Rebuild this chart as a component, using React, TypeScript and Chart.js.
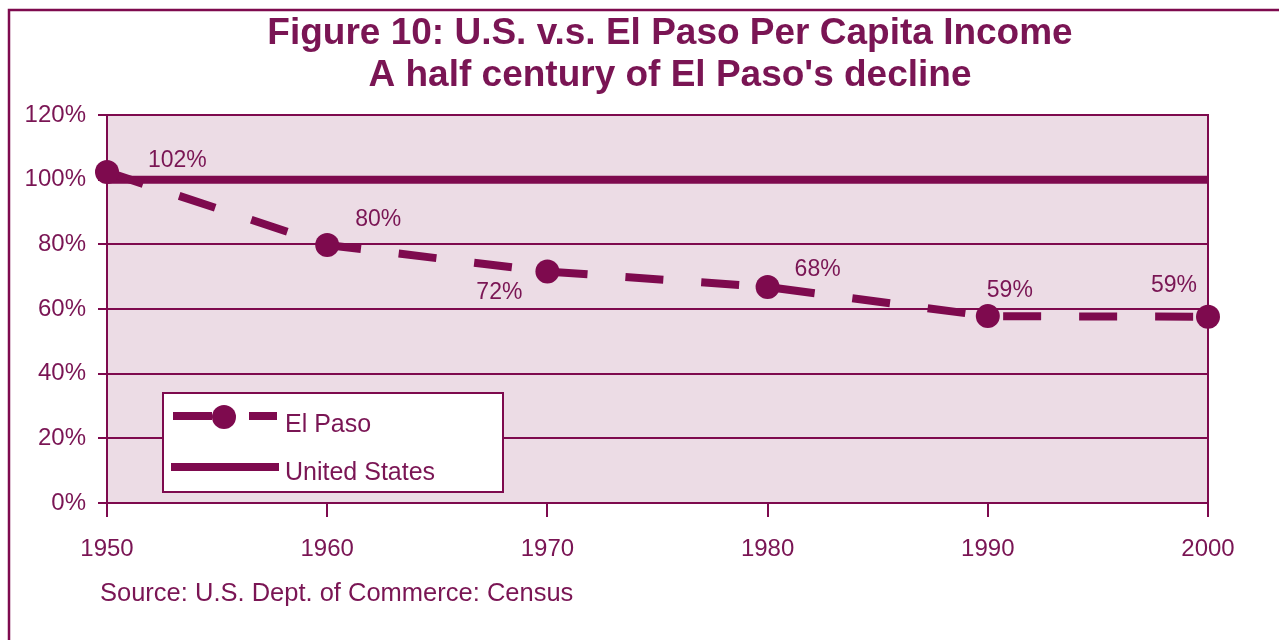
import React, { useEffect, useRef } from 'react';
import { Chart, registerables } from 'chart.js';

Chart.register(...registerables);

// ---- data ----
const years = [1950, 1960, 1970, 1980, 1990, 2000];
const elPaso = [102.4, 79.8, 71.6, 66.8, 57.8, 57.6];
const unitedStates = [100, 100, 100, 100, 100, 100];
const elPasoLabels = ['102%', '80%', '72%', '68%', '59%', '59%'];
const seriesNames = ['El Paso', 'United States'];
const titleLines = ['Figure 10: U.S. v.s. El Paso Per Capita Income', "A half century of El Paso's decline"];
const sourceNote = 'Source: U.S. Dept. of Commerce: Census';

// ---- style ----
const PURPLE = '#7e0a4e';
const TEXT = '#7a1554';
const PLOT_BG = '#ecdce5';
const FONT = '"Liberation Sans", Arial, sans-serif';

// label placement relative to each point
const labelPlacement = [
  { dx: 41, dy: -5, align: 'left' },
  { dx: 28, dy: -19, align: 'left' },
  { dx: -25, dy: 28, align: 'right' },
  { dx: 27, dy: -11, align: 'left' },
  { dx: -1, dy: -19, align: 'left' },
  { dx: -11, dy: -25, align: 'right' },
];

const decor = {
  id: 'decor',
  beforeDraw(chart: any) {
    const { ctx, chartArea: a } = chart;
    ctx.save();
    ctx.fillStyle = '#ffffff';
    ctx.fillRect(0, 0, chart.width, chart.height);
    // outer frame (left and top edges visible)
    ctx.strokeStyle = PURPLE;
    ctx.lineWidth = 2.5;
    ctx.beginPath();
    ctx.moveTo(9, 640);
    ctx.lineTo(9, 10);
    ctx.lineTo(1279, 10);
    ctx.stroke();
    // plot background
    ctx.fillStyle = PLOT_BG;
    ctx.fillRect(a.left, a.top, a.right - a.left, a.bottom - a.top);
    // titles
    ctx.fillStyle = TEXT;
    ctx.textAlign = 'center';
    ctx.textBaseline = 'alphabetic';
    ctx.font = `bold 37px ${FONT}`;
    ctx.fillText(titleLines[0], 670, 44);
    ctx.fillText(titleLines[1], 670, 86);
    // source
    ctx.textAlign = 'left';
    ctx.font = `25.5px ${FONT}`;
    ctx.fillText(sourceNote, 100, 601);
    ctx.restore();
  },
  beforeDatasetsDraw(chart: any) {
    const { ctx, chartArea: a } = chart;
    ctx.save();
    ctx.strokeStyle = PURPLE;
    ctx.lineWidth = 2;
    ctx.strokeRect(a.left, a.top, a.right - a.left, a.bottom - a.top);
    ctx.restore();
  },
  afterDatasetsDraw(chart: any) {
    const { ctx } = chart;
    ctx.save();
    // data labels
    const meta = chart.getDatasetMeta(0);
    ctx.fillStyle = TEXT;
    ctx.font = `23px ${FONT}`;
    ctx.textBaseline = 'alphabetic';
    meta.data.forEach((pt: any, i: number) => {
      const p = labelPlacement[i];
      ctx.textAlign = p.align;
      ctx.fillText(elPasoLabels[i], pt.x + p.dx, pt.y + p.dy);
    });
    // legend
    const lx = 163, ly = 393, lw = 340, lh = 99;
    ctx.fillStyle = '#ffffff';
    ctx.fillRect(lx, ly, lw, lh);
    ctx.strokeStyle = PURPLE;
    ctx.lineWidth = 2;
    ctx.strokeRect(lx, ly, lw, lh);
    ctx.lineWidth = 8;
    ctx.lineCap = 'butt';
    ctx.beginPath();
    ctx.moveTo(173, 416);
    ctx.lineTo(212, 416);
    ctx.moveTo(249, 416);
    ctx.lineTo(277, 416);
    ctx.stroke();
    ctx.fillStyle = PURPLE;
    ctx.beginPath();
    ctx.arc(224, 417, 12, 0, Math.PI * 2);
    ctx.fill();
    ctx.beginPath();
    ctx.moveTo(171, 467);
    ctx.lineTo(279, 467);
    ctx.stroke();
    ctx.fillStyle = TEXT;
    ctx.textAlign = 'left';
    ctx.font = `25px ${FONT}`;
    ctx.fillText(chart.data.datasets[0].label, 285, 432);
    ctx.fillText(chart.data.datasets[1].label, 285, 480);
    ctx.restore();
  },
};

export default function App() {
  const ref = useRef<HTMLCanvasElement>(null);
  useEffect(() => {
    if (!ref.current) return;
    const chart = new Chart(ref.current, {
      type: 'line',
      data: {
        datasets: [
          {
            label: seriesNames[0],
            data: years.map((x, i) => ({ x, y: elPaso[i] })),
            borderColor: PURPLE,
            backgroundColor: PURPLE,
            borderWidth: 8,
            borderDash: [38, 38],
            borderCapStyle: 'butt',
            pointRadius: 12,
            pointBackgroundColor: PURPLE,
            pointBorderWidth: 0,
            tension: 0,
            clip: false,
          },
          {
            label: seriesNames[1],
            data: years.map((x, i) => ({ x, y: unitedStates[i] })),
            borderColor: PURPLE,
            backgroundColor: PURPLE,
            borderWidth: 8,
            pointRadius: 0,
            tension: 0,
            clip: false,
          },
        ],
      } as any,
      plugins: [decor],
      options: {
        animation: false,
        responsive: false,
        layout: { padding: { top: 115, right: 71, bottom: 0, left: 0 } },
        plugins: {
          legend: { display: false },
          tooltip: { enabled: false },
          title: { display: false },
        },
        scales: {
          x: {
            type: 'linear',
            min: 1950,
            max: 2000,
            afterFit: (s: any) => { s.height = 137; },
            ticks: {
              stepSize: 10,
              callback: (v: any) => String(v),
              color: TEXT,
              font: { family: FONT, size: 24 },
              padding: 18,
              maxRotation: 0,
            },
            grid: {
              drawOnChartArea: false,
              drawTicks: true,
              tickLength: 14,
              color: PURPLE,
              lineWidth: 2,
            },
            border: { display: false },
          },
          y: {
            min: 0,
            max: 120,
            afterFit: (s: any) => { s.width = 107; },
            ticks: {
              stepSize: 20,
              callback: (v: any) => `${v}%`,
              color: TEXT,
              font: { family: FONT, size: 24 },
              padding: 12,
            },
            grid: {
              color: PURPLE,
              lineWidth: 2,
              tickLength: 9,
            },
            border: { display: false },
          },
        },
      } as any,
    });
    return () => chart.destroy();
  }, []);
  return (
    <canvas
      ref={ref}
      width={1279}
      height={640}
      style={{ position: 'fixed', left: 0, top: 0, width: 1279, height: 640, display: 'block' }}
    />
  );
}
